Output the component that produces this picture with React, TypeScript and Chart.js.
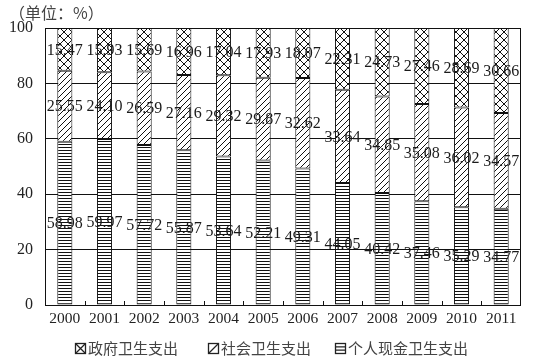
import React, { useEffect, useRef } from "react";
import { Chart, registerables } from "chart.js";

Chart.register(...registerables);

const categories = ["2000", "2001", "2002", "2003", "2004", "2005", "2006", "2007", "2008", "2009", "2010", "2011"];
const govValues = [15.47, 15.93, 15.69, 16.96, 17.04, 17.93, 18.07, 22.31, 24.73, 27.46, 28.69, 30.66];
const socialValues = [25.55, 24.10, 26.59, 27.16, 29.32, 29.87, 32.62, 33.64, 34.85, 35.08, 36.02, 34.57];
const personalValues = [58.98, 59.97, 57.72, 55.87, 53.64, 52.21, 49.31, 44.05, 40.42, 37.46, 35.29, 34.77];
const seriesNames = ["个人现金卫生支出", "社会卫生支出", "政府卫生支出"];
const yTicks = [0, 20, 40, 60, 80, 100];
const titleText = "（单位：%）";

const SERIF = "'Liberation Serif', 'Times New Roman', serif";
const CJK = "'Noto Sans CJK SC', sans-serif";

function makePattern(kind: string): CanvasPattern | string {
  const c = document.createElement("canvas");
  const ctx = c.getContext("2d")!;
  if (kind === "h") {
    c.width = 4; c.height = 3;
    ctx.fillStyle = "#fff"; ctx.fillRect(0, 0, 4, 3);
    ctx.fillStyle = "#111"; ctx.fillRect(0, 0, 4, 1);
  } else if (kind === "d") {
    c.width = 6; c.height = 6;
    ctx.fillStyle = "#fff"; ctx.fillRect(0, 0, 6, 6);
    ctx.strokeStyle = "#111"; ctx.lineWidth = 1;
    ctx.beginPath();
    ctx.moveTo(0, 6); ctx.lineTo(6, 0);
    ctx.moveTo(-1, 1); ctx.lineTo(1, -1);
    ctx.moveTo(5, 7); ctx.lineTo(7, 5);
    ctx.stroke();
  } else {
    c.width = 8; c.height = 8;
    ctx.fillStyle = "#fff"; ctx.fillRect(0, 0, 8, 8);
    ctx.strokeStyle = "#111"; ctx.lineWidth = 1;
    ctx.beginPath();
    ctx.moveTo(0, 0); ctx.lineTo(8, 8);
    ctx.moveTo(0, 8); ctx.lineTo(8, 0);
    ctx.stroke();
  }
  const p = ctx.createPattern(c, "repeat");
  return p || "#fff";
}

export default function App() {
  const ref = useRef<HTMLCanvasElement | null>(null);
  useEffect(() => {
    document.body.style.margin = "0";
    const canvas = ref.current!;
    const decor = {
      id: "decor",
      afterDatasetsDraw(chart: any) {
        const ctx = chart.ctx;
        const area = chart.chartArea;
        ctx.save();
        // data labels
        ctx.font = `16px ${SERIF}`;
        ctx.fillStyle = "#1a1a1a";
        ctx.textAlign = "center";
        ctx.textBaseline = "middle";
        chart.data.datasets.forEach((ds: any, di: number) => {
          const meta = chart.getDatasetMeta(di);
          meta.data.forEach((el: any, i: number) => {
            const y = (el.y + el.base) / 2 + 1;
            ctx.fillText((ds.data[i] as number).toFixed(2), el.x, y);
          });
        });
        // frame
        ctx.strokeStyle = "#111";
        ctx.lineWidth = 1;
        ctx.strokeRect(Math.round(area.left) + 0.5, Math.round(area.top) + 0.5, Math.round(area.right - area.left) - 1, Math.round(area.bottom - area.top));
        // inner x ticks
        const xs = chart.scales.x;
        ctx.beginPath();
        for (let i = 1; i < categories.length; i++) {
          const x = Math.round((xs.getPixelForValue(i - 1) + xs.getPixelForValue(i)) / 2) + 0.5;
          ctx.moveTo(x, area.bottom);
          ctx.lineTo(x, area.bottom - 4);
        }
        ctx.stroke();
        // title
        ctx.font = `16px ${CJK}`;
        ctx.fillStyle = "#444";
        ctx.textAlign = "left";
        ctx.textBaseline = "middle";
        ctx.fillText(titleText, 9, 13);
        // legend
        ctx.font = `15px ${CJK}`;
        const order = [2, 1, 0];
        const boxX = [75, 208, 335];
        const ly = 348;
        order.forEach((di, k) => {
          const bx = boxX[k] + 0.5;
          const by = ly - 5 + 0.5;
          ctx.strokeStyle = "#222";
          ctx.lineWidth = 1.3;
          ctx.strokeRect(bx, by, 10, 10);
          ctx.beginPath();
          if (di === 2) {
            ctx.moveTo(bx, by); ctx.lineTo(bx + 10, by + 10);
            ctx.moveTo(bx, by + 10); ctx.lineTo(bx + 10, by);
          } else if (di === 1) {
            ctx.moveTo(bx, by + 10); ctx.lineTo(bx + 10, by);
          } else {
            ctx.moveTo(bx, by + 3.3); ctx.lineTo(bx + 10, by + 3.3);
            ctx.moveTo(bx, by + 6.7); ctx.lineTo(bx + 10, by + 6.7);
          }
          ctx.stroke();
          ctx.fillStyle = "#444";
          ctx.fillText(seriesNames[di], boxX[k] + 13, ly);
        });
        ctx.restore();
      },
    };
    const chart = new Chart(canvas, {
      type: "bar",
      data: {
        labels: categories,
        datasets: [
          { label: seriesNames[0], data: personalValues, backgroundColor: makePattern("h") as any, borderColor: "#111", borderWidth: 1, borderSkipped: false },
          { label: seriesNames[1], data: socialValues, backgroundColor: makePattern("d") as any, borderColor: "#111", borderWidth: 1, borderSkipped: false },
          { label: seriesNames[2], data: govValues, backgroundColor: makePattern("x") as any, borderColor: "#111", borderWidth: 1, borderSkipped: false },
        ],
      },
      options: {
        animation: false,
        responsive: false,
        events: [],
        layout: { padding: { left: 0, right: 17, top: 28, bottom: 0 } },
        datasets: { bar: { barPercentage: 0.38, categoryPercentage: 1 } },
        plugins: { legend: { display: false }, title: { display: false }, tooltip: { enabled: false } },
        scales: {
          x: {
            stacked: true,
            grid: { display: false, drawTicks: false },
            border: { display: false },
            ticks: { color: "#222", font: { family: SERIF, size: 15.5 }, padding: 5, maxRotation: 0, autoSkip: false },
            afterFit: (s: any) => { s.height = 54; },
          },
          y: {
            stacked: true,
            min: 0,
            max: 100,
            afterBuildTicks: (s: any) => { s.ticks = yTicks.map((v) => ({ value: v })); },
            grid: { color: "#111", lineWidth: 1, drawTicks: false },
            border: { display: false },
            ticks: { color: "#222", font: { family: SERIF, size: 16 }, padding: 12 },
            afterFit: (s: any) => { s.width = 45; },
          },
        },
      },
      plugins: [decor],
    });
    return () => chart.destroy();
  }, []);
  return (
    <div style={{ width: 538, height: 359 }}>
      <canvas ref={ref} width={538} height={359} style={{ display: "block" }} />
    </div>
  );
}
